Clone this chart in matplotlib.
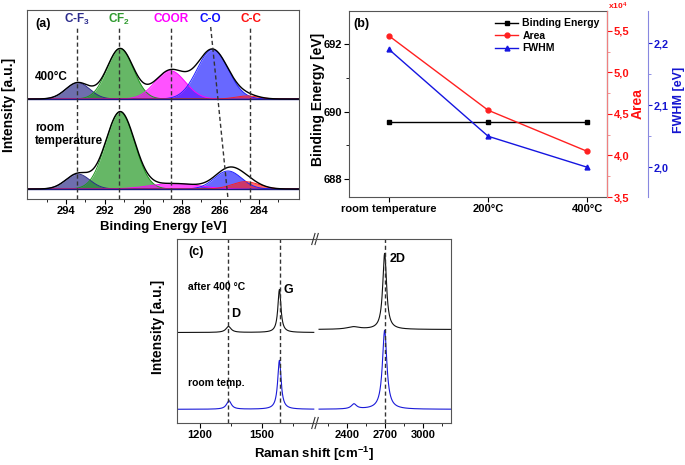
import numpy as np
import matplotlib
matplotlib.use("Agg")
import matplotlib.pyplot as plt

plt.rcParams['font.family'] = ['Liberation Sans', 'DejaVu Sans']
plt.rcParams['font.weight'] = 'bold'
plt.rcParams['axes.labelweight'] = 'bold'
plt.rcParams['mathtext.fontset'] = 'custom'
plt.rcParams['mathtext.rm'] = 'Liberation Sans:bold'
plt.rcParams['mathtext.bf'] = 'Liberation Sans:bold'
plt.rcParams['mathtext.default'] = 'bf'

# ---- (a) XPS C1s fit components: (center eV, height, sigma) ----
xps_names = ["C-F$_3$", "CF$_2$", "COOR", "C-O", "C-C"]
xps_fill = ["#2a2a88", "#1e961e", "#ff00ff", "#2020ff", "#ff2020"]
xps_text = ["#2b2b8c", "#2f9a2f", "#ff00ff", "#1010ff", "#ff1010"]
xps_lines = [293.45, 291.24, 288.58, None, 284.45]
co_line = (286.5, 285.6)  # C-O line is slanted (top, bottom)

hot_base = 100
hot_peaks = [(293.4, 16.3, 0.62), (291.2, 50.5, 0.68), (288.6, 28.3, 0.78),
             (286.4, 49.5, 0.80), (284.6, 3.0, 0.6)]
rt_base = 10
rt_peaks = [(293.4, 15.0, 0.62), (291.2, 77.0, 0.75), (288.4, 5.5, 1.25),
            (285.6, 18.0, 0.70), (284.7, 7.3, 0.70)]

# ---- (b) fit parameters vs temperature ----
temps = ["room temperature", "200°C", "400°C"]
binding = [689.7, 689.7, 689.7]
area = [5.44, 4.545, 4.05]  # x10^4
fwhm = [2.19, 2.05, 2.00]

# ---- (c) Raman peaks: (position, height, half width) ----
top_base_l, top_base_r = 90.5, 93.5
top_left = [(1338, 6, 15), (1584, 43, 9)]
top_right = [(2450, 2.5, 60), (2697, 76, 18)]
bot_base_l, bot_base_r = 13.7, 13.7
bot_left = [(1340, 8.5, 14), (1584, 49, 10)]
bot_right = [(2455, 5, 25), (2697, 79, 21)]
raman_lines = [1336, 1585, 2700]


def gauss(x, c, h, s):
    return h * np.exp(-(x - c) ** 2 / (2 * s ** 2))


def lor(x, c, h, w):
    return h * w ** 2 / ((x - c) ** 2 + w ** 2)


fig = plt.figure(figsize=(6.85, 4.65), dpi=100)
W, H = 685, 465


def box(l, t, r, b):
    return [l / W, 1 - b / H, (r - l) / W, (b - t) / H]


# ================= (a) =================
axa = fig.add_axes(box(26.7, 10, 299.3, 199))
xe = np.linspace(296.1, 281.8, 700)
for base, peaks in [(hot_base, hot_peaks), (rt_base, rt_peaks)]:
    total = np.full_like(xe, base, dtype=float)
    for (c, h, s), col in zip(peaks, xps_fill):
        g = gauss(xe, c, h, s)
        total += g
        axa.fill_between(xe, base, base + g, color=col, alpha=0.68, lw=0)
        axa.plot(xe, base + g, color=col, lw=0.7)
    axa.axhline(base, color="#1c1c80", lw=1.0)
    axa.plot(xe, total, color="black", lw=1.0)

for xl in xps_lines:
    if xl is not None:
        axa.plot([xl, xl], [0, 172], ls=(0, (3, 2)), color="#333333", lw=1.0)
axa.plot([co_line[0], co_line[1]], [172, 0], ls=(0, (3, 2)), color="#333333", lw=1.0)

for name, col, xc in zip(xps_names, xps_text, [293.45, 291.24, 288.55, 286.5, 284.4]):
    axa.text(xc, 180, name, color=col, ha="center", va="center", fontsize=8.5)

axa.set_xlim(296.05, 281.9)
axa.set_ylim(0, 189)
axa.set_yticks([])
axa.set_xticks([294, 292, 290, 288, 286, 284])
axa.set_xticks(np.arange(295, 281.9, -2), minor=True)
axa.tick_params(axis="x", direction="out", labelsize=8, length=3.5, pad=1.5)
axa.tick_params(axis="x", which="minor", direction="out", length=2)
for sp in axa.spines.values():
    sp.set_color("#555555")
axa.text(0.03, 0.925, "(a)", transform=axa.transAxes, fontsize=9, va="center")
axa.text(0.03, 0.645, "400°C", transform=axa.transAxes, fontsize=8.5, va="center")
axa.text(0.03, 0.34, "room\ntemperature", transform=axa.transAxes, fontsize=8.5,
         va="center", linespacing=1.15)
axa.text(-0.065, 0.5, "Intensity [a.u.]", transform=axa.transAxes, rotation=90,
         ha="center", va="center", fontsize=10)
fig.text(163 / W, 1 - 227 / H, "Binding Energy [eV]", ha="center", va="center", fontsize=9.5)

# ================= (b) =================
axb = fig.add_axes(box(349, 11, 607, 197))
xi = np.arange(len(temps))
l1, = axb.plot(xi, binding, color="black", marker="s", ms=3.5, lw=1.0, label="Binding Energy")
axb.set_xlim(-0.404, 2.2)
axb.set_ylim(687.47, 692.98)
axb.set_yticks([688, 690, 692])
axb.set_yticks([689, 691], minor=True)
axb.set_xticks(xi)
axb.set_xticklabels(temps)
axb.tick_params(axis="both", direction="out", labelsize=8, length=3.5, pad=1.5)
axb.tick_params(axis="y", which="minor", direction="out", length=2)
for sp in ["left", "bottom", "top"]:
    axb.spines[sp].set_color("#555555")
axb.text(0.016, 0.93, "(b)", transform=axb.transAxes, fontsize=9, va="center")
axb.text(-0.12, 0.527, "Binding Energy [eV]", transform=axb.transAxes, rotation=90,
         ha="center", va="center", fontsize=10)

axr = axb.twinx()
l2, = axr.plot(xi, area, color="#ff2020", marker="o", ms=3.5, lw=1.0, label="Area")
axr.set_ylim(3.5, 5.74)
axr.set_yticks([3.5, 4.0, 4.5, 5.0, 5.5])
axr.set_yticklabels(["3,5", "4,0", "4,5", "5,0", "5,5"])
axr.set_yticks([3.75, 4.25, 4.75, 5.25], minor=True)
axr.tick_params(axis="y", colors="#ff1010", labelsize=8, length=3.5, pad=1.5)
axr.tick_params(axis="y", which="minor", colors="#f08080", length=2)
axr.spines["right"].set_color("#f08080")
for sp in ["left", "top", "bottom"]:
    axr.spines[sp].set_visible(False)
axr.text(1.003, 0.995, "x10$^4$", transform=axr.transAxes, color="#ff1010",
         fontsize=6, ha="left", va="bottom")
axr.text(1.12, 0.505, "Area", transform=axr.transAxes, rotation=90, color="#ff1010",
         ha="center", va="center", fontsize=10)

axf = axb.twinx()
axf.spines["right"].set_position(("axes", 1.159))
l3, = axf.plot(xi, fwhm, color="#1515e0", marker="^", ms=3.5, lw=1.0, label="FWHM")
axf.set_ylim(1.952, 2.252)
axf.set_yticks([2.0, 2.1, 2.2])
axf.set_yticklabels(["2,0", "2,1", "2,2"])
axf.set_yticks([2.05, 2.15], minor=True)
axf.tick_params(axis="y", colors="#1515d0", labelsize=7.8, length=3, pad=1.0)
axf.tick_params(axis="y", which="minor", colors="#8080e0", length=2)
axf.spines["right"].set_color("#8888e0")
for sp in ["left", "top", "bottom"]:
    axf.spines[sp].set_visible(False)
axf.text(1.278, 0.52, "FWHM [eV]", transform=axb.transAxes, rotation=90, color="#1515d0",
         ha="center", va="center", fontsize=9)

axb.legend([l1, l2, l3], [l.get_label() for l in (l1, l2, l3)], loc="upper right",
           bbox_to_anchor=(1.0, 1.0), frameon=False, fontsize=7.5, handlelength=2.2,
           labelspacing=0.25, borderaxespad=0.3, handletextpad=0.4)

# ================= (c) =================
axl = fig.add_axes(box(177, 239, 315, 423))
axrr = fig.add_axes(box(315, 239, 451, 423), sharey=axl)
xl_ = np.linspace(1090, 1750, 700)
xr_ = np.linspace(2180, 3218, 900)
for ax, xx, tp, bp, tb, bb in [(axl, xl_, top_left, bot_left, top_base_l, bot_base_l),
                               (axrr, xr_, top_right, bot_right, top_base_r, bot_base_r)]:
    yt = np.full_like(xx, tb)
    for p in tp:
        yt += lor(xx, *p)
    yb = np.full_like(xx, bb)
    for p in bp:
        yb += lor(xx, *p)
    ax.plot(xx, yt, color="#111111", lw=0.8)
    ax.plot(xx, yb, color="#1a1ad8", lw=0.8)

for xv in raman_lines:
    ax = axl if xv < 2000 else axrr
    ax.axvline(xv, ls=(0, (3, 2)), color="#333333", lw=1.0)

axl.set_xlim(1089, 1756)
axrr.set_xlim(2148, 3220)
axl.set_ylim(0, 184)
axl.set_xticks([1200, 1500])
axl.set_xticks([1350, 1650], minor=True)
axrr.set_xticks([2400, 2700, 3000])
axrr.set_xticks([2250, 2550, 2850, 3150], minor=True)
for ax in (axl, axrr):
    ax.tick_params(axis="x", direction="out", labelsize=8, length=3.5, pad=1.5)
    ax.tick_params(axis="x", which="minor", direction="out", length=2)
    ax.tick_params(axis="y", left=False, labelleft=False, right=False)
    for sp in ax.spines.values():
        sp.set_color("#555555")
axl.spines["right"].set_visible(False)
axrr.spines["left"].set_visible(False)

# break marks
for yb_ in (0, 1):
    for dx in (-0.012, 0.012):
        axrr.plot([dx - 0.012, dx + 0.012], [yb_ - 0.03, yb_ + 0.03], transform=axrr.transAxes,
                  color="#333333", lw=0.8, clip_on=False)

axl.text(0.08, 0.93, "(c)", transform=axl.transAxes, fontsize=9, va="center")
axl.text(0.08, 0.74, "after 400 °C", transform=axl.transAxes, fontsize=7.5, va="center")
axl.text(0.08, 0.22, "room temp.", transform=axl.transAxes, fontsize=7.5, va="center")
axl.text(1350, 423 - 314, "D", fontsize=9, va="center")
axl.text(1605, 423 - 290, "G", fontsize=9, va="center")
axrr.text(2735, 423 - 259, "2D", fontsize=9, va="center")
axl.text(-0.138, 0.52, "Intensity [a.u.]", transform=axl.transAxes, rotation=90,
         ha="center", va="center", fontsize=10)
fig.text(314 / W, 1 - 454 / H, "Raman shift [cm$^{-1}$]", ha="center", va="center", fontsize=9.5)

fig.savefig("out.png", dpi=100)
